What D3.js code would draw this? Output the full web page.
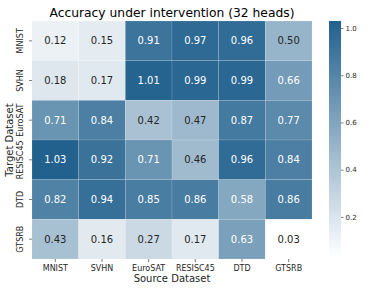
<!DOCTYPE html>
<html lang="en">
<head>
<meta charset="UTF-8" />
<title>Accuracy under intervention</title>
<script src="https://d3js.org/d3.v7.min.js"></script>
<style>
  body { margin: 0; background: #fff; }
  text { font-family: "DejaVu Sans", sans-serif; }
</style>
</head>
<body>
<div id="chart"></div>
<script>
// datasets (rows = target, columns = source)
const sources = ["MNIST", "SVHN", "EuroSAT", "RESISC45", "DTD", "GTSRB"];
const targets = ["MNIST", "SVHN", "EuroSAT", "RESISC45", "DTD", "GTSRB"];
const values = [
  [0.12, 0.15, 0.91, 0.97, 0.96, 0.50],
  [0.18, 0.17, 1.01, 0.99, 0.99, 0.66],
  [0.71, 0.84, 0.42, 0.47, 0.87, 0.77],
  [1.03, 0.92, 0.71, 0.46, 0.96, 0.84],
  [0.82, 0.94, 0.85, 0.86, 0.58, 0.86],
  [0.43, 0.16, 0.27, 0.17, 0.63, 0.03]
];
const cbarTicks = [0.2, 0.4, 0.6, 0.8, 1.0];

const width = 389, height = 292;
const margin = { top: 21, left: 32, right: 77, bottom: 33 };

const svg = d3.select("#chart").append("svg")
  .attr("width", width).attr("height", height);

const x = d3.scaleBand().domain(sources).range([margin.left, width - margin.right]);
const y = d3.scaleBand().domain(targets).range([margin.top, height - margin.bottom]);

const vmin = d3.min(values.flat()), vmax = d3.max(values.flat());
const color = d3.scaleLinear().domain([vmin, vmax])
  .range(["#ffffff", "#22618e"]).interpolate(d3.interpolateRgb);

const cells = [];
values.forEach((row, i) => row.forEach((v, j) => cells.push({ t: targets[i], s: sources[j], v })));

svg.append("g").selectAll("rect").data(cells).join("rect")
  .attr("x", d => x(d.s)).attr("y", d => y(d.t))
  .attr("width", x.bandwidth()).attr("height", y.bandwidth())
  .attr("fill", d => color(d.v))
  .attr("stroke", "rgba(255,255,255,0.25)").attr("stroke-width", 0.5);

svg.append("g").selectAll("text").data(cells).join("text")
  .attr("x", d => x(d.s) + x.bandwidth() / 2)
  .attr("y", d => y(d.t) + y.bandwidth() / 2)
  .attr("text-anchor", "middle").attr("dominant-baseline", "central")
  .attr("font-size", 10)
  .attr("fill", d => d.v > 0.55 ? "#ffffff" : "#262626")
  .text(d => d.v.toFixed(2));

// axes
const xAxis = svg.append("g")
  .attr("transform", `translate(0,${height - margin.bottom})`)
  .call(d3.axisBottom(x).tickSize(3).tickPadding(3));
xAxis.select(".domain").remove();
xAxis.selectAll("text").attr("font-size", 8).attr("fill", "#262626");
xAxis.selectAll("line").attr("stroke", "#262626").attr("stroke-width", 0.6);

const yAxis = svg.append("g")
  .attr("transform", `translate(${margin.left},0)`)
  .call(d3.axisLeft(y).tickSize(3).tickPadding(2));
yAxis.select(".domain").remove();
yAxis.selectAll("line").attr("stroke", "#262626").attr("stroke-width", 0.6);
yAxis.selectAll("text")
  .attr("font-size", 8).attr("fill", "#262626")
  .attr("transform", "rotate(-90)")
  .attr("x", 0).attr("y", -9)
  .attr("text-anchor", "middle").attr("dy", "0");

svg.append("text")
  .attr("x", (margin.left + width - margin.right) / 2).attr("y", 17)
  .attr("text-anchor", "middle").attr("font-size", 12.3).attr("fill", "#000")
  .text("Accuracy under intervention (32 heads)");

svg.append("text")
  .attr("x", (margin.left + width - margin.right) / 2).attr("y", 282)
  .attr("text-anchor", "middle").attr("font-size", 10).attr("fill", "#262626")
  .text("Source Dataset");

svg.append("text")
  .attr("transform", `translate(13,${(margin.top + height - margin.bottom) / 2}) rotate(-90)`)
  .attr("text-anchor", "middle").attr("font-size", 10).attr("fill", "#262626")
  .text("Target Dataset");

// colorbar
const cbX = 329, cbW = 12;
const cb = d3.scaleLinear().domain([vmin, vmax]).range([257, 21]);
const defs = svg.append("defs");
const grad = defs.append("linearGradient").attr("id", "cbg")
  .attr("x1", 0).attr("y1", 1).attr("x2", 0).attr("y2", 0);
grad.append("stop").attr("offset", 0).attr("stop-color", color(vmin));
grad.append("stop").attr("offset", 1).attr("stop-color", color(vmax));
svg.append("rect")
  .attr("x", cbX).attr("y", cb(vmax)).attr("width", cbW)
  .attr("height", cb(vmin) - cb(vmax)).attr("fill", "url(#cbg)");

const cAxis = svg.append("g")
  .attr("transform", `translate(${cbX + cbW},0)`)
  .call(d3.axisRight(cb).tickValues(cbarTicks).tickFormat(d3.format(".1f")).tickSize(2.5).tickPadding(2));
cAxis.select(".domain").remove();
cAxis.selectAll("text").attr("font-size", 7).attr("fill", "#262626");
cAxis.selectAll("line").attr("stroke", "#262626").attr("stroke-width", 0.6);
</script>
</body>
</html>
